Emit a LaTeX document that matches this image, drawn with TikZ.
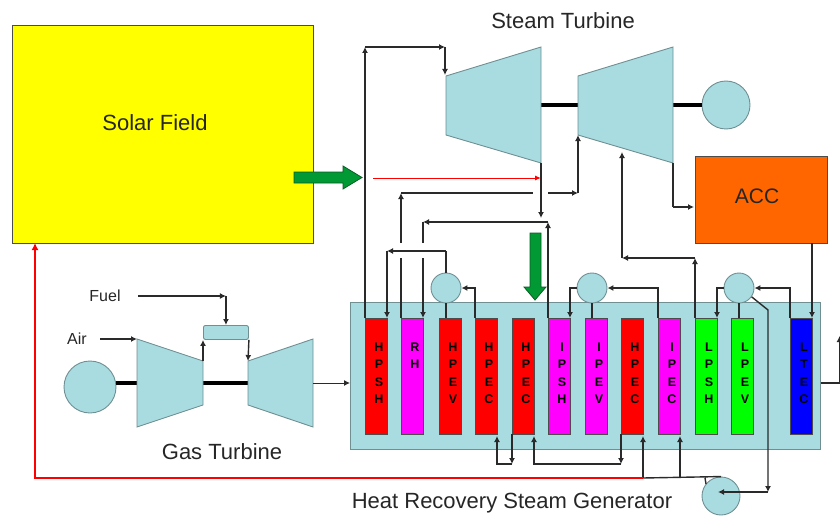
\documentclass[tikz,border=0pt]{standalone}
\usepackage{fontspec}
\setmainfont{Liberation Sans}
\usetikzlibrary{arrows.meta,positioning,shapes.geometric,calc}
\definecolor{tealfill}{HTML}{a8dce1}
\definecolor{tealedge}{HTML}{6f8f92}
\definecolor{greenarrow}{HTML}{009933}
\definecolor{greenedge}{HTML}{0b5c26}
\definecolor{accfill}{HTML}{ff6600}
\definecolor{linedark}{HTML}{2a2a2a}
\definecolor{tubered}{HTML}{ff0000}
\definecolor{tubemag}{HTML}{ff00ff}
\definecolor{tubegreen}{HTML}{00ff00}
\definecolor{tubeblue}{HTML}{0000ff}
\definecolor{fieldyellow}{HTML}{ffff00}
\tikzset{
  arr/.style   = {-{Latex[length=6pt,width=6pt]}, line width=1.4pt, draw=linedark},
  pipe/.style  = {line width=1.4pt, draw=linedark},
  shaft/.style = {line width=4pt, black},
  unit/.style  = {draw=tealedge, line width=.9pt, fill=tealfill},
  drum/.style  = {unit, circle, minimum size=30pt, inner sep=0pt},
  tube/.style  = {draw=black!70, thin, minimum width=22pt, minimum height=116pt,
                  inner sep=0pt, outer sep=0pt, alias=tmp, anchor=north west},
  tubetext/.style = {inner sep=0pt, align=center, anchor=north,
                  font=\fontsize{12.5}{17.5}\selectfont\bfseries},
  heading/.style = {font=\fontsize{22}{26}\selectfont, text=black!85, inner sep=0pt},
  small/.style = {font=\fontsize{16}{19}\selectfont, text=black!85, inner sep=0pt},
  block/.style = {fill=greenarrow, draw=greenedge, line width=.8pt},
}
\begin{document}
\begin{tikzpicture}[x=1pt,y=-1pt]
 \useasboundingbox (0,0) rectangle (840,516);
 % boxes
 \node[draw=black!70,fill=fieldyellow,minimum width=301pt,minimum height=218pt,anchor=north west,inner sep=0pt] (solar) at (12,25) {};
 \node[heading] at (155,123) {Solar Field};
 \node[draw=black!70,fill=accfill,minimum width=132pt,minimum height=87pt,anchor=north west,inner sep=0pt] (acc) at (695,156) {};
 \node[heading,font=\fontsize{21}{24}\selectfont] at (757,196) {ACC};
 \node[unit,minimum width=470pt,minimum height=147pt,anchor=north west,inner sep=0pt] (hrsg) at (350,302) {};
 % tube rows
 \path
 node[tube,fill=tubered] (hpsh) at (365,318) {}
 node[tube,fill=tubemag,right=14pt of tmp.north east,anchor=north west] (rh) {}
 node[tube,fill=tubered,right=16pt of tmp.north east,anchor=north west] (hpev) {}
 node[tube,fill=tubered,right=14pt of tmp.north east,anchor=north west] (hpeca) {}
 node[tube,fill=tubered,right=15pt of tmp.north east,anchor=north west] (hpecb) {}
 node[tube,fill=tubemag,right=14pt of tmp.north east,anchor=north west] (ipsh) {}
 node[tube,fill=tubemag,right=15pt of tmp.north east,anchor=north west] (ipev) {}
 node[tube,fill=tubered,right=14pt of tmp.north east,anchor=north west] (hpecc) {}
 node[tube,fill=tubemag,right=15pt of tmp.north east,anchor=north west] (ipec) {}
 node[tube,fill=tubegreen,right=15pt of tmp.north east,anchor=north west] (lpsh) {}
 node[tube,fill=tubegreen,right=14pt of tmp.north east,anchor=north west] (lpev) {}
 node[tube,fill=tubeblue,right=37pt of tmp.north east,anchor=north west] (ltec) {};
 \foreach \t/\s in {hpsh/{H\\P\\S\\H},rh/{R\\H},hpev/{H\\P\\E\\V},hpeca/{H\\P\\E\\C},hpecb/{H\\P\\E\\C},
   ipsh/{I\\P\\S\\H},ipev/{I\\P\\E\\V},hpecc/{H\\P\\E\\C},ipec/{I\\P\\E\\C},lpsh/{L\\P\\S\\H},lpev/{L\\P\\E\\V},ltec/{L\\T\\E\\C}}
   \node[tubetext] (\t text) at ($(\t.north)+(3,24.5)$) {\s};
 % drums and rotating machines
 \node[drum] (drumhp) at (446,288) {};
 \node[drum] (drumip) at (592,288) {};
 \node[drum] (drumlp) at (739,288) {};
 \node[unit,circle,minimum size=48pt,inner sep=0pt] (gensteam) at (726,105) {};
 \node[unit,circle,minimum size=52pt,inner sep=0pt] (gengas) at (90,387) {};
 \node[unit,circle,minimum size=38pt,inner sep=0pt] (pump) at (721,496) {};
 \node[unit,rounded corners=2pt,minimum width=45pt,minimum height=14pt,anchor=north west,inner sep=0pt] (comb) at (203,325) {};
 % turbines
 \draw[shaft] (541,105) -- (578,105) (673,105) -- (gensteam);
 \draw[shaft] (gengas.east |- 0,383) -- (138,383) (203,383) -- (248,383);
 \draw[unit] (446,76) coordinate (hpa) -- (541,47) -- (541,163) coordinate (hpb) -- (446,135) -- cycle;
 \draw[unit] (578,76) -- (673,47) -- (673,163) coordinate (lpb) -- (578,135) coordinate (lpa) -- cycle;
 \draw[unit] (137,339) coordinate (compa) -- (203,361) coordinate (compb) -- (203,405) -- (137,427) -- cycle;
 \draw[unit] (248,361) coordinate (gta) -- (313,339) -- (313,427) -- (248,405) -- cycle;
 \node[heading] at (563,21) {Steam Turbine};
 \node[heading] at (222,452) {Gas Turbine};
 \node[heading] at (512,503) {Heat Recovery Steam Generator};
 \node[small] (fuel) at (105,296) {Fuel};
 \node[small] (air) at (77,339) {Air};
 % coordinates for the corners
 \coordinate (topa) at (365,47);
 \coordinate (topb) at (445,47);
 \coordinate (hpdown) at (541,218);
 \coordinate (iptee) at (548,222);
 \coordinate (rhtee) at (423,222);
 \coordinate (hpleft) at (387,251);
 \coordinate (rhup) at (401,193);
 \coordinate (lpin) at (578,193);
 \coordinate (lpup) at (622,258);
 \coordinate (lptee) at (695,258);
 \coordinate (accin) at (694,207);
 \coordinate (redend) at (643,478);
 \coordinate (hpfeed) at (512,464);
 \coordinate (ipfeed) at (621,464);
 \coordinate (pumpin) at (768,492);
 \coordinate (stackup) at (839.5,336);
 % steam side
 \draw[arr] (hpsh.north west) -- (topa);
 \draw[arr] (topa) -- (topb);
 \draw[arr] (topb) -- (445,75);
 \draw[arr] (hpb) -- (hpdown);
 \draw[arr] (ipsh.north west) -- (iptee);
 \draw[arr] (iptee) -- (rhtee);
 \draw[pipe] (rhtee) -- (423,243);
 \draw[arr] (423,258) -- (rh.north east);
 \draw[pipe] (drumhp.north) -- (446,251);
 \draw[arr] (446,251) -- (hpleft);
 \draw[arr] (hpleft) -- (hpsh.north east);
 \draw[pipe] (rh.north west) -- (401,258);
 \draw[arr] (401,243) -- (rhup);
 \draw[pipe] (rhup) -- (533,193);
 \draw[arr] (548,193) -- (lpin);
 \draw[arr] (lpin) -- (lpa);
 \draw[arr] (lptee) -- (lpup);
 \draw[arr] (lpsh.north west) -- (lptee);
 \draw[arr] (lpup) -- (622,152);
 \draw[pipe] (lpb) -- (673,207);
 \draw[arr] (673,207) -- (accin);
 \draw[arr] (acc.south -| ltec.north east) -- (ltec.north east);
 % drum connections
 \draw[pipe] (drumhp) -- (hpev.north -| drumhp);
 \draw[pipe] (drumip) -- (ipev.north -| drumip);
 \draw[pipe] (drumlp) -- (lpev.north -| drumlp);
 \draw[arr] (hpeca.north west) |- (drumhp.east);
 \draw[arr] (drumip.west) -| (ipsh.north east);
 \draw[arr] (ipec.north west) |- (drumip.east);
 \draw[arr] (drumlp.west) -| (lpsh.north east);
 \draw[arr] (ltec.north west) |- (drumlp.east);
 \draw[arr] (drumlp.-35) -- (768,310) -- (pumpin);
 \draw[arr] (pumpin) -- (718,492);
 % feed water
 \draw[arr] (hpecb.south west) -- (hpfeed);
 \draw[arr] (hpfeed) -| ($(hpeca.south east)+(0,2)$);
 \draw[arr] (hpecc.south west) -- (ipfeed);
 \draw[arr] (ipfeed) -| ($(hpecb.south east)+(0,2)$);
 \draw[arr] (redend) -- ($(hpecc.south east)+(0,2)$);
 \draw[arr] (ipec.south east |- redend) -- ($(ipec.south east)+(0,2)$);
 \draw[pipe] (redend) -- (pump.north) (705,478) -- (706,484);
 % gas side
 \draw[arr] (138,296) -- (comb.north |- fuel.east);
 \draw[arr] (comb.north |- fuel.east) -- (comb.north);
 \draw[arr] ($(air.east)+(13,0)$) -- (compa);
 \draw[arr] (compb) -- (comb.south west);
 \draw[arr] (comb.south east) -- (gta);
 \draw[arr,line width=1pt] (313,383) -- (hrsg.west |- 0,383);
 \draw[pipe] (hrsg.east |- 0,383) -- (840,383);
 \draw[arr] (839.5,383) -- (stackup);
 % solar loop and flow markers
 \draw[-{Latex[length=7pt,width=7pt]},line width=1.5pt,red] (redend) -| (35,243);
 \draw[-{Latex[length=6pt,width=5pt]},line width=1pt,red] (373,178) -- (541,178);
 \draw[block] (294,172) -- (343,172) -- (343,166) -- (362,177.5) -- (343,189) -- (343,183) -- (294,183) -- cycle;
 \draw[block] (530,233) -- (541,233) -- (541,287) -- (546,287) -- (535,300) -- (524,287) -- (530,287) -- cycle;
\end{tikzpicture}
\end{document}
